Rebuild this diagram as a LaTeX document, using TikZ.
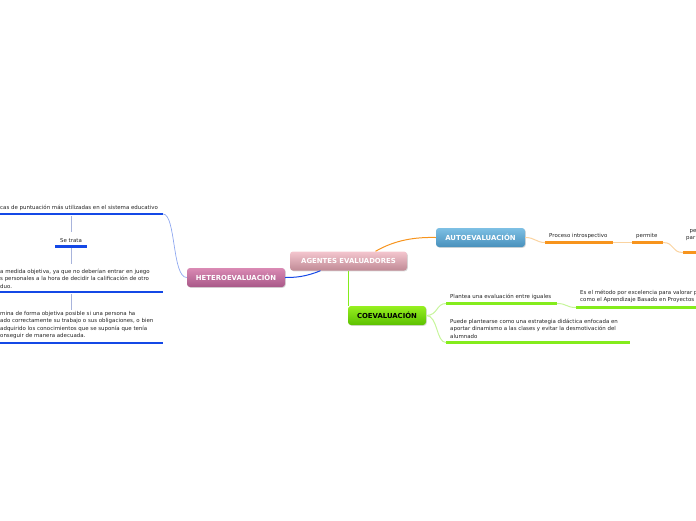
\documentclass[tikz,border=0pt]{standalone}
\usepackage{fontspec}
\setmainfont{DejaVu Sans}
\usetikzlibrary{shadows,calc}
\definecolor{hblue}{HTML}{1448E6}
\definecolor{hbluel}{HTML}{8FA8F0}
\definecolor{hgrey}{HTML}{A8B4DC}
\definecolor{aor}{HTML}{F7941D}
\definecolor{aorl}{HTML}{FAD3A0}
\definecolor{cgr}{HTML}{84EC1C}
\definecolor{cgrl}{HTML}{C6F59A}
\definecolor{txtc}{HTML}{222222}
\tikzset{
  topic/.style={rounded corners=3pt, minimum height=19pt, inner sep=0pt,
    font=\fontsize{6.9}{7}\selectfont\bfseries, text=white,
    drop shadow={opacity=0.3, shadow xshift=0.8pt, shadow yshift=-0.8pt}},
  txt/.style={font=\fontsize{5.45}{7.4}\selectfont, text=txtc, inner sep=0pt, align=left, anchor=south west},
  hline/.style={hblue, line width=2.6pt},
  oline/.style={aor, line width=2.6pt},
  gline/.style={cgr, line width=2.6pt},
}
\begin{document}
\begin{tikzpicture}[x=1pt,y=-1pt]
\useasboundingbox (0,0) rectangle (696,520);
\clip (0,0) rectangle (696,520);

% main topics
\node[topic, minimum width=117pt, top color={rgb,255:red,244;green,198;blue,206}, bottom color={rgb,255:red,192;green,138;blue,150}] (root) at (348.5,261) {AGENTES EVALUADORES};
\node[topic, minimum width=98pt, top color={rgb,255:red,218;green,138;blue,180}, bottom color={rgb,255:red,168;green,88;blue,136}] (hetero) at (236,277.5) {HETEROEVALUACIÓN};
\node[topic, minimum width=89pt, top color={rgb,255:red,126;green,192;blue,228}, bottom color={rgb,255:red,72;green,144;blue,188}] (auto) at (480.5,237.5) {AUTOEVALUACIÓN};
\node[topic, minimum width=78pt, text=black, top color={rgb,255:red,150;green,240;blue,32}, bottom color={rgb,255:red,92;green,192;blue,0}] (co) at (387,315.5) {COEVALUACIÓN};

% root connectors
\draw[aor, line width=1pt] ($(root.north)+(27,0)$) .. controls (395,240) and (415,237) .. (auto.west);
\draw[hblue, line width=1pt] ($(root.south)+(-28,0)$) .. controls (305,277) and (295,277.5) .. (hetero.east);
\draw[cgr, line width=1.1pt] (root.south) -- (root.south |- co.north);

% ---------- HETEROEVALUACION ----------
\coordinate (h1L) at (-2,214);
\coordinate (h1R) at (163,214);
\node[txt] (h1) at (0,211) {cas de puntuación más utilizadas en el sistema educativo};
\draw[hline] (h1L) -- (h1R);
\draw[hbluel, line width=0.7pt] (hetero.west) .. controls (172,277.5) and (176,214) .. (h1R);

\coordinate (stL) at (55,246.5);
\coordinate (stR) at (87,246.5);
\node[font=\fontsize{5.45}{6}\selectfont, text=txtc, inner sep=0pt, anchor=south] (st) at (71,243) {Se trata};
\draw[hline] (stL) -- (stR);
\coordinate (v1a) at (71,216);
\coordinate (v1b) at (71,232);
\draw[hgrey, line width=0.6pt] (v1a) -- (v1b);

\coordinate (h2L) at (-2,292);
\coordinate (h2R) at (163,292);
\node[txt] (h2) at (0,288.5) {a medida objetiva, ya que no deberían entrar en juego\\s personales a la hora de decidir la calificación de otro\\duo.};
\draw[hline] (h2L) -- (h2R);
\coordinate (v2a) at (71,248);
\coordinate (v2b) at (71,264);
\draw[hgrey, line width=0.6pt] (v2a) -- (v2b);

\coordinate (h3L) at (-2,343);
\coordinate (h3R) at (163,343);
\node[txt] (h3) at (0,339) {mina de forma objetiva posible si una persona ha\\ado correctamente su trabajo o sus obligaciones, o bien\\adquirido los conocimientos que se suponía que tenía\\onseguir de manera adecuada.};
\draw[hline] (h3L) -- (h3R);
\coordinate (v3a) at (71,294);
\coordinate (v3b) at (71,310);
\draw[hgrey, line width=0.6pt] (v3a) -- (v3b);

% ---------- AUTOEVALUACION ----------
\coordinate (a1L) at (545,242.5);
\coordinate (a1R) at (613,242.5);
\node[txt] (a1) at (549,238.5) {Proceso introspectivo};
\draw[oline] (a1L) -- (a1R);
\draw[aorl, line width=1pt] (auto.east) .. controls (535,237.5) and (536,242.5) .. (a1L);

\coordinate (a2L) at (632,242.5);
\coordinate (a2R) at (663,242.5);
\node[txt] (a2) at (636,238.5) {permite};
\draw[oline] (a2L) -- (a2R);
\draw[aorl, line width=1pt] (a1R) -- (a2L);

\coordinate (a3L) at (683,252.5);
\coordinate (a3R) at (700,252.5);
\node[txt] (a3) at (686,241) {\hspace{3.5pt}pe\\par};
\draw[oline] (a3L) -- (a3R);
\draw[aorl, line width=1pt] (a2R) .. controls (675,242.5) and (671,252.5) .. (a3L);

% ---------- COEVALUACION ----------
\coordinate (c1L) at (446,303.5);
\coordinate (c1R) at (557,303.5);
\node[txt] (c1) at (450,299.5) {Plantea una evaluación entre iguales};
\draw[gline] (c1L) -- (c1R);
\draw[cgrl, line width=1pt] (co.east) .. controls (438,315.5) and (436,303.5) .. (c1L);

\coordinate (c2L) at (576,307.5);
\coordinate (c2R) at (700,307.5);
\node[txt] (c2) at (580,303) {Es el método por excelencia para valorar p\\como el Aprendizaje Basado en Proyectos};
\draw[gline] (c2L) -- (c2R);
\draw[cgrl, line width=1pt] (c1R) .. controls (567,303.5) and (566,307.5) .. (c2L);

\coordinate (c3L) at (446,342.5);
\coordinate (c3R) at (630,342.5);
\node[txt] (c3) at (450,338.5) {Puede plantearse como una estrategia didáctica enfocada en\\aportar dinamismo a las clases y evitar la desmotivación del\\alumnado};
\draw[gline] (c3L) -- (c3R);
\draw[cgrl, line width=1pt] (co.east) .. controls (438,315.5) and (436,342.5) .. (c3L);
\end{tikzpicture}
\end{document}
